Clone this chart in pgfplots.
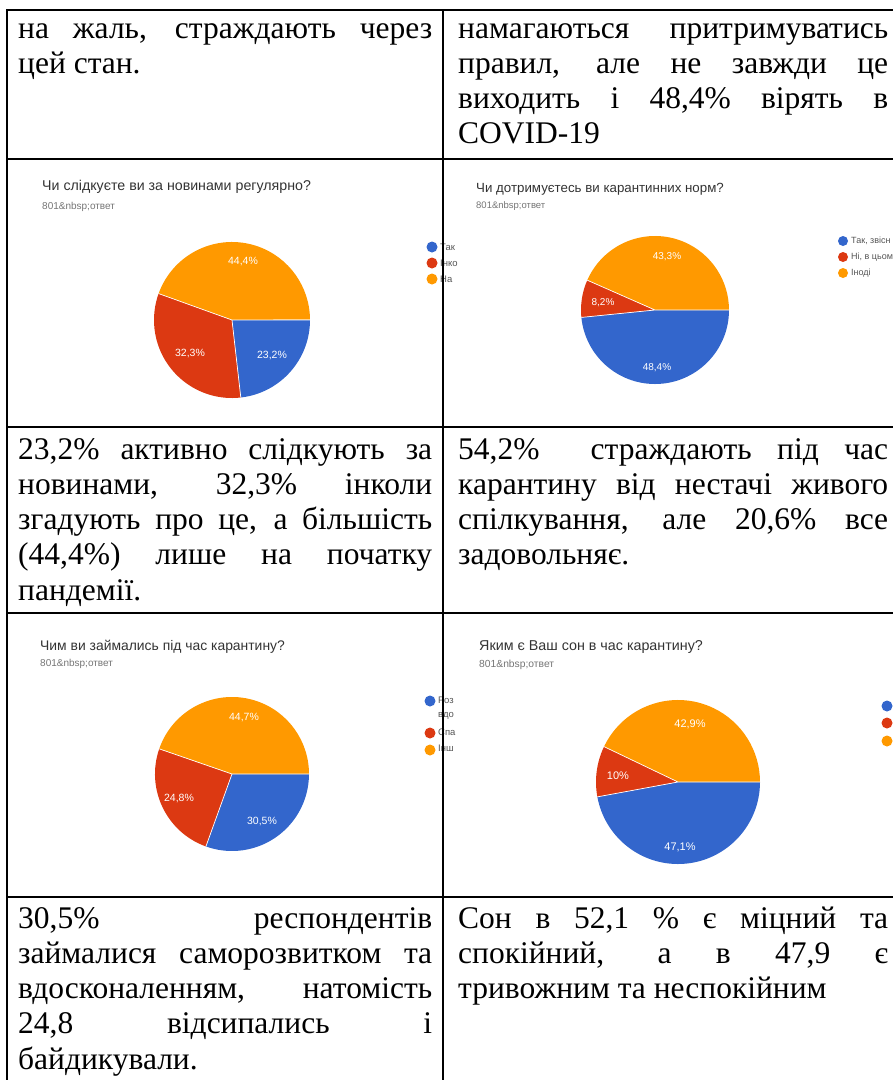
\documentclass[border=0pt]{standalone}
\usepackage{fontspec}
\setmainfont{Liberation Serif}
\newfontfamily\gsans{Liberation Sans}
\usepackage{pgfplots}
\pgfplotsset{compat=1.18}

\definecolor{gblue}{HTML}{3366CC}
\definecolor{gred}{HTML}{DC3912}
\definecolor{gorange}{HTML}{FF9900}
\definecolor{gtitle}{HTML}{333333}
\definecolor{gsub}{HTML}{757575}
\definecolor{glegend}{HTML}{555555}

% pie: centre x, centre y, radius, blue %, red %, orange %
% slices start at 3 o'clock and run clockwise
\newcommand{\pie}[6]{%
  \fill[gblue] (axis cs:#1,#2) -- ++(0:#3pt) arc[start angle=0, end angle={-3.6*#4}, radius=#3pt] -- cycle;
  \fill[gred] (axis cs:#1,#2) -- ++({-3.6*#4}:#3pt) arc[start angle={-3.6*#4}, end angle={-3.6*(#4+#5)}, radius=#3pt] -- cycle;
  \fill[gorange] (axis cs:#1,#2) -- ++({-3.6*(#4+#5)}:#3pt) arc[start angle={-3.6*(#4+#5)}, end angle={-3.6*(#4+#5+#6)}, radius=#3pt] -- cycle;
  \draw[white, line width=0.7pt] (axis cs:#1,#2) -- ++(0:#3pt)
     (axis cs:#1,#2) -- ++({-3.6*#4}:#3pt)
     (axis cs:#1,#2) -- ++({-3.6*(#4+#5)}:#3pt);
}
\newcommand{\cell}[4]{% x, baseline, width, lines
  \node[anchor=base west, inner sep=0pt] at (axis cs:#1,#2)
    {\parbox[t]{#3pt}{\fontsize{31.5}{35.3}\selectfont #4}};
}
\newcommand{\jl}[2]{\makebox[#1pt][s]{#2}}

\tikzset{
  ttl/.style={anchor=west, inner sep=0pt, text=gtitle, font=\gsans\fontsize{#1}{15}\selectfont},
  sub/.style={anchor=west, inner sep=0pt, text=gsub, font=\gsans\fontsize{#1}{11}\selectfont},
  pct/.style={inner sep=0pt, text=white, font=\gsans\fontsize{#1}{12}\selectfont},
  leg/.style={anchor=west, inner sep=0pt, text=glegend, font=\gsans\fontsize{#1}{11}\selectfont},
}

\begin{document}
\begin{tikzpicture}
\useasboundingbox (0,0) rectangle (893pt,1080pt);
\clip (0,0) rectangle (893pt,1080pt);
\begin{axis}[
  at={(0,0)}, anchor=south west,
  width=893pt, height=1080pt, scale only axis,
  xmin=0, xmax=893, ymin=0, ymax=1080,
  y dir=reverse, hide axis, clip=false,
]
% --- row 1 text
\cell{18}{38}{414}{\jl{414}{на жаль, страждають через}\\цей стан.}
\cell{458}{38}{430}{\jl{430}{намагаються притримуватись}\\\jl{430}{правил, але не завжди це}\\\jl{430}{виходить і 48,4\% вірять в}\\COVID-19}

% --- chart 1
\node[ttl=14.2] at (axis cs:42,187) {Чи слідкуєте ви за новинами регулярно?};
\node[sub=10] at (axis cs:42,207) {801\&nbsp;ответ};
\pie{232}{320}{78}{23.2}{32.3}{44.4}
\node[pct=10.5] at (axis cs:243,262) {44,4\%};
\node[pct=10.5] at (axis cs:190,353) {32,3\%};
\node[pct=10.5] at (axis cs:272,355) {23,2\%};
\fill[gblue] (axis cs:432,247) circle[radius=5.5pt];
\fill[gred] (axis cs:432,263) circle[radius=5.5pt];
\fill[gorange] (axis cs:432,279) circle[radius=5.5pt];
\node[leg=9.5] at (axis cs:440,247) {Так};
\node[leg=9.5] at (axis cs:440,263) {Інко};
\node[leg=9.5] at (axis cs:440,279) {На};

% --- chart 2
\node[ttl=13.3] at (axis cs:476,189) {Чи дотримуєтесь ви карантинних норм?};
\node[sub=9.5] at (axis cs:476,206) {801\&nbsp;ответ};
\pie{655}{310}{74}{48.4}{8.2}{43.4}
\node[pct=10] at (axis cs:667,257) {43,3\%};
\node[pct=10] at (axis cs:603,303) {8,2\%};
\node[pct=10] at (axis cs:657,368) {48,4\%};
\fill[gblue] (axis cs:843,241) circle[radius=5pt];
\fill[gred] (axis cs:843,257) circle[radius=5pt];
\fill[gorange] (axis cs:843,273) circle[radius=5pt];
\node[leg=9] at (axis cs:851,241) {Так, звісн};
\node[leg=9] at (axis cs:851,257) {Ні, в цьом};
\node[leg=9] at (axis cs:851,273) {Іноді};

% --- row 3 text
\cell{18}{459}{414}{\jl{414}{23,2\% активно слідкують за}\\\jl{414}{новинами, 32,3\% інколи}\\\jl{414}{згадують про це, а більшість}\\\jl{414}{(44,4\%) лише на початку}\\пандемії.}
\cell{458}{459}{430}{\jl{430}{54,2\%\ \ страждають під час}\\\jl{430}{карантину від нестачі живого}\\\jl{430}{спілкування, але 20,6\% все}\\задовольняє.}

% --- chart 3
\node[ttl=13.9] at (axis cs:40,647) {Чим ви займались під час карантину?};
\node[sub=10] at (axis cs:40,664) {801\&nbsp;ответ};
\pie{232}{774}{77}{30.5}{24.8}{44.7}
\node[pct=10.5] at (axis cs:244,718) {44,7\%};
\node[pct=10.5] at (axis cs:179,798) {24,8\%};
\node[pct=10.5] at (axis cs:262,821) {30,5\%};
\fill[gblue] (axis cs:430,701) circle[radius=5.5pt];
\fill[gred] (axis cs:430,733) circle[radius=5.5pt];
\fill[gorange] (axis cs:430,750) circle[radius=5.5pt];
\node[leg=9.5] at (axis cs:438,700) {Роз};
\node[leg=9.5] at (axis cs:438,716) {вдо};
\node[leg=9.5] at (axis cs:438,732) {Спа};
\node[leg=9.5] at (axis cs:438,748) {Інш};

% --- chart 4
\node[ttl=14.3] at (axis cs:479,647) {Яким є Ваш сон в час карантину?};
\node[sub=10.3] at (axis cs:479,665) {801\&nbsp;ответ};
\pie{678}{782}{82}{47.1}{10}{42.9}
\node[pct=11] at (axis cs:690,724) {42,9\%};
\node[pct=11] at (axis cs:618,776) {10\%};
\node[pct=11] at (axis cs:680,847) {47,1\%};
\fill[gblue] (axis cs:887,706) circle[radius=5.5pt];
\fill[gred] (axis cs:887,723) circle[radius=5.5pt];
\fill[gorange] (axis cs:887,741) circle[radius=5.5pt];

% --- row 5 text
\cell{18}{928}{414}{\jl{414}{30,5\% респондентів}\\\jl{414}{займалися саморозвитком та}\\\jl{414}{вдосконаленням, натомість}\\\jl{414}{24,8 відсипались і}\\байдикували.}
\cell{458}{928}{430}{\jl{430}{Сон в 52,1 \% є міцний та}\\\jl{430}{спокійний, а в 47,9 є}\\тривожним та неспокійним}

% --- table rules
\draw[line width=2.2pt] (axis cs:7,10) -- (axis cs:893,10);
\draw[line width=2.2pt] (axis cs:7,159) -- (axis cs:893,159);
\draw[line width=2.2pt] (axis cs:7,427) -- (axis cs:893,427);
\draw[line width=2.2pt] (axis cs:7,613) -- (axis cs:893,613);
\draw[line width=2.2pt] (axis cs:7,897) -- (axis cs:893,897);
\draw[line width=2.2pt] (axis cs:7,9) -- (axis cs:7,1080);
\draw[line width=2.2pt] (axis cs:443,10) -- (axis cs:443,1080);
\end{axis}
\end{tikzpicture}
\end{document}
